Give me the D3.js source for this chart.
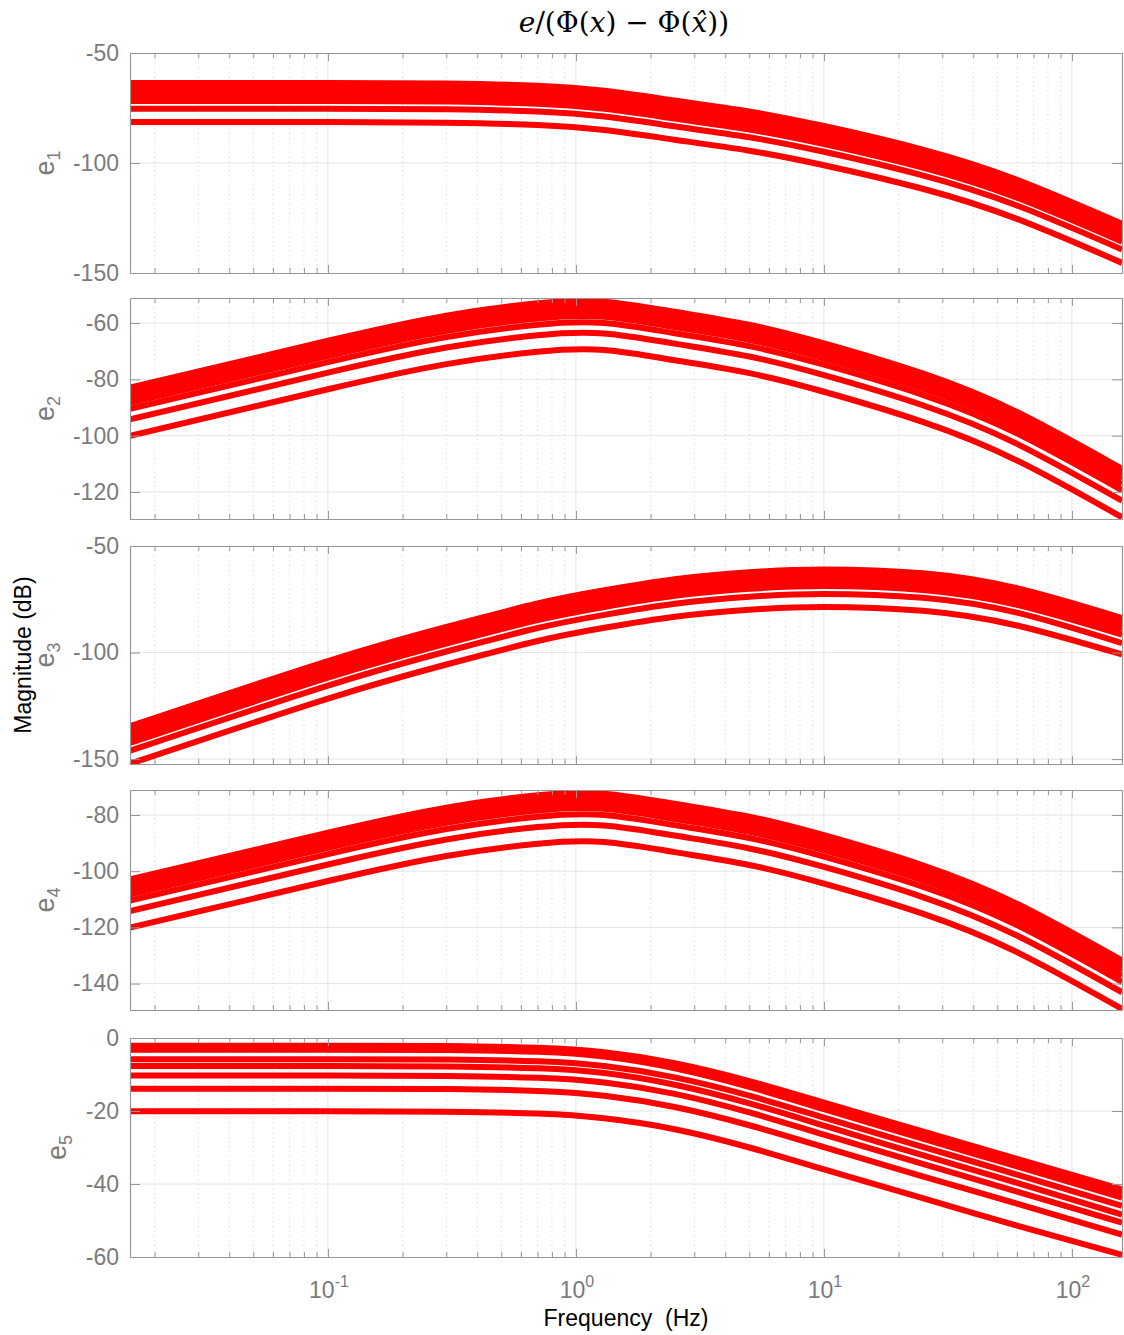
<!DOCTYPE html>
<html><head><meta charset="utf-8">
<script src="https://cdn.jsdelivr.net/npm/d3@7"></script>
<style>
body{margin:0;background:#fff}
svg{display:block}
text{font-family:"Liberation Sans",Arial,Helvetica,sans-serif}
</style>
</head><body><script>
// ---------------- data ----------------
const freqHz = [0.0159, 0.1, 0.3, 0.7, 1.3, 2.5, 5, 10, 25, 60, 159.15];

const e1Lines = [
  [-63.6, -63.6, -63.9, -64.9, -67.2, -71.6, -76.6, -83.2, -93.9, -107.6, -127.6],
  [-64.6, -64.6, -64.9, -65.9, -68.2, -72.6, -77.6, -84.2, -94.9, -108.6, -128.6],
  [-66.6, -66.6, -66.9, -67.9, -70.2, -74.6, -79.6, -86.2, -96.9, -110.6, -130.6],
  [-68.3, -68.3, -68.6, -69.6, -71.9, -76.3, -81.3, -87.9, -98.6, -112.3, -132.3],
  [-70.0, -70.0, -70.3, -71.3, -73.6, -78.0, -83.0, -89.6, -100.3, -114.0, -134.0],
  [-71.8, -71.8, -72.1, -73.1, -75.4, -79.8, -84.8, -91.4, -102.1, -115.8, -135.8],
  [-75.3, -75.3, -75.6, -76.6, -78.9, -83.3, -88.3, -94.9, -105.6, -119.3, -139.3],
  [-81.4, -81.4, -81.7, -82.7, -85.0, -89.4, -94.4, -101.0, -111.7, -125.4, -145.4]
];
const e2Lines = [
  [-82.9, -66.3, -57.4, -53.0, -52.4, -56.0, -60.6, -67.2, -77.9, -91.6, -111.8],
  [-83.9, -67.3, -58.4, -54.0, -53.4, -57.0, -61.6, -68.2, -78.9, -92.6, -112.8],
  [-85.1, -68.5, -59.6, -55.2, -54.6, -58.2, -62.8, -69.4, -80.1, -93.8, -114.0],
  [-86.5, -69.9, -61.0, -56.6, -56.0, -59.6, -64.2, -70.8, -81.5, -95.2, -115.4],
  [-88.3, -71.7, -62.8, -58.4, -57.8, -61.4, -66.0, -72.6, -83.3, -97.0, -117.2],
  [-90.5, -73.9, -65.0, -60.6, -60.0, -63.6, -68.2, -74.8, -85.5, -99.2, -119.4],
  [-94.2, -77.6, -68.7, -64.3, -63.7, -67.3, -71.9, -78.5, -89.2, -102.9, -123.1],
  [-100.1, -83.5, -74.6, -70.2, -69.6, -73.2, -77.8, -84.4, -95.1, -108.8, -129.0]
];
const e3Lines = [
  [-134.6, -104.0, -88.0, -77.0, -70.8, -65.6, -62.3, -61.0, -62.8, -69.8, -83.8],
  [-135.6, -105.0, -89.0, -78.0, -71.8, -66.6, -63.3, -62.0, -63.8, -70.8, -84.8],
  [-136.8, -106.2, -90.2, -79.2, -73.0, -67.8, -64.5, -63.2, -65.0, -72.0, -86.0],
  [-138.2, -107.6, -91.6, -80.6, -74.4, -69.2, -65.9, -64.6, -66.4, -73.4, -87.4],
  [-140.0, -109.4, -93.4, -82.4, -76.2, -71.0, -67.7, -66.4, -68.2, -75.2, -89.2],
  [-142.4, -111.8, -95.8, -84.8, -78.6, -73.4, -70.1, -68.8, -70.6, -77.6, -91.6],
  [-146.1, -115.5, -99.5, -88.5, -82.3, -77.1, -73.8, -72.5, -74.3, -81.3, -95.6],
  [-152.2, -121.6, -105.6, -94.6, -88.4, -83.2, -79.9, -78.6, -80.4, -87.3, -100.9]
];
const e4Lines = [
  [-102.9, -86.3, -77.4, -73.0, -72.4, -76.0, -80.6, -87.2, -97.9, -111.6, -131.8],
  [-103.9, -87.3, -78.4, -74.0, -73.4, -77.0, -81.6, -88.2, -98.9, -112.6, -132.8],
  [-105.1, -88.5, -79.6, -75.2, -74.6, -78.2, -82.8, -89.4, -100.1, -113.8, -134.0],
  [-106.5, -89.9, -81.0, -76.6, -76.0, -79.6, -84.2, -90.8, -101.5, -115.2, -135.4],
  [-108.3, -91.7, -82.8, -78.4, -77.8, -81.4, -86.0, -92.6, -103.3, -117.0, -137.2],
  [-110.5, -93.9, -85.0, -80.6, -80.0, -83.6, -88.2, -94.8, -105.5, -119.2, -139.4],
  [-114.2, -97.6, -88.7, -84.3, -83.7, -87.3, -91.9, -98.5, -109.2, -122.9, -143.1],
  [-120.1, -103.5, -94.6, -90.2, -89.6, -93.2, -97.8, -104.4, -115.1, -128.8, -149.0]
];
const e5Lines = [
  [-2.1, -2.1, -2.2, -2.7, -3.9, -6.9, -11.8, -17.7, -25.6, -33.1, -41.5],
  [-2.6, -2.6, -2.7, -3.2, -4.5, -7.6, -12.6, -18.6, -26.6, -34.1, -42.5],
  [-3.2, -3.2, -3.3, -3.8, -5.1, -8.3, -13.4, -19.5, -27.6, -35.2, -43.7],
  [-5.8, -5.8, -5.9, -6.4, -7.7, -10.8, -15.8, -21.8, -29.8, -37.4, -46.0],
  [-7.7, -7.7, -7.8, -8.3, -9.6, -12.8, -17.9, -24.0, -32.1, -39.7, -48.4],
  [-10.3, -10.3, -10.4, -10.9, -12.2, -15.3, -20.4, -26.5, -34.5, -42.1, -50.6],
  [-13.9, -13.9, -14.0, -14.5, -15.8, -18.9, -23.9, -29.9, -37.9, -45.4, -53.9],
  [-20.1, -20.1, -20.2, -20.7, -22.0, -25.0, -30.0, -36.0, -43.9, -51.4, -59.4]
];

const yDomains = [[-150, -50], [-129.6, -51.1], [-152.3, -50], [-149.4, -71.1], [-60, 0]];
const yTicks = [[-150, -100, -50], [-120, -100, -80, -60], [-150, -100, -50], [-140, -120, -100, -80], [-60, -40, -20, 0]];
const panelSubs = ["1", "2", "3", "4", "5"];
const xTickExps = [-1, 0, 1, 2];
const xLabelText = "Frequency  (Hz)";
const yLabelText = "Magnitude (dB)";

// ---------------- layout ----------------
const W = 1124, H = 1335, L = 130, R = 1122;
const frames = [[53, 273], [298, 519], [546, 764], [790, 1010], [1038, 1257]];
const yLabelX = [54, 54, 54, 54, 66];
const allLines = [e1Lines, e2Lines, e3Lines, e4Lines, e5Lines];
const axisGray = "#969696", labelGray = "#7b7b7b";

const svg = d3.select("body").append("svg").attr("width", W).attr("height", H);
svg.append("rect").attr("width", W).attr("height", H).attr("fill", "#fff");

const x = d3.scaleLog().domain([0.1 / (2 * Math.PI), 1000 / (2 * Math.PI)]).range([L, R]);
const [fmin, fmax] = x.domain();
const majorF = xTickExps.map(e => Math.pow(10, e));
const minorF = [];
for (let e = -2; e <= 2; e++) for (let m = 2; m <= 9; m++) {
  const f = m * Math.pow(10, e);
  if (f > fmin && f < fmax) minorF.push(f);
}

const defs = svg.append("defs");

frames.forEach(([top, bottom], i) => {
  const y = d3.scaleLinear().domain(yDomains[i]).range([bottom, top]);
  const g = svg.append("g");

  // grid
  g.append("g").selectAll("line").data(minorF).join("line")
    .attr("x1", d => x(d)).attr("x2", d => x(d)).attr("y1", top).attr("y2", bottom)
    .attr("stroke", "#d6d6d6").attr("stroke-width", 1).attr("stroke-dasharray", "1.2,3.5");
  g.append("g").selectAll("line").data(majorF).join("line")
    .attr("x1", d => x(d)).attr("x2", d => x(d)).attr("y1", top).attr("y2", bottom)
    .attr("stroke", "#e4e4e4").attr("stroke-width", 1);
  g.append("g").selectAll("line").data(yTicks[i].filter(t => y(t) > top + 1 && y(t) < bottom - 1)).join("line")
    .attr("x1", L).attr("x2", R).attr("y1", d => y(d)).attr("y2", d => y(d))
    .attr("stroke", "#e4e4e4").attr("stroke-width", 1);

  // clip
  defs.append("clipPath").attr("id", "clip" + i).append("rect")
    .attr("x", L).attr("y", top).attr("width", R - L).attr("height", bottom - top);

  const line = d3.line().x((d, k) => x(freqHz[k])).y(d => y(d)).curve(d3.curveNatural);
  g.append("g").attr("clip-path", `url(#clip${i})`)
    .selectAll("path").data(allLines[i]).join("path")
    .attr("d", d => line(d))
    .attr("fill", "none").attr("stroke", "#ff0000").attr("stroke-width", 6)
    .attr("stroke-linejoin", "round");

  // axes (ticks inward)
  const axB = g.append("g").attr("transform", `translate(0,${bottom})`)
    .call(d3.axisBottom(x).tickValues(majorF).tickSize(-8).tickSizeOuter(0).tickFormat(""));
  const axBm = g.append("g").attr("transform", `translate(0,${bottom})`)
    .call(d3.axisBottom(x).tickValues(minorF).tickSize(-5).tickSizeOuter(0).tickFormat(""));
  const axT = g.append("g").attr("transform", `translate(0,${top})`)
    .call(d3.axisTop(x).tickValues(majorF).tickSize(-8).tickSizeOuter(0).tickFormat(""));
  const axTm = g.append("g").attr("transform", `translate(0,${top})`)
    .call(d3.axisTop(x).tickValues(minorF).tickSize(-5).tickSizeOuter(0).tickFormat(""));
  const axL = g.append("g").attr("transform", `translate(${L},0)`)
    .call(d3.axisLeft(y).tickValues(yTicks[i]).tickSize(-10).tickSizeOuter(0).tickPadding(11).tickFormat(d3.format("d")));
  const axR = g.append("g").attr("transform", `translate(${R},0)`)
    .call(d3.axisRight(y).tickValues(yTicks[i]).tickSize(-10).tickSizeOuter(0).tickFormat(""));
  [axB, axBm, axT, axTm, axL, axR].forEach(a => {
    a.selectAll("path.domain").attr("stroke", axisGray).attr("stroke-width", 1.2);
    a.selectAll(".tick line").attr("stroke", axisGray).attr("stroke-width", 1);
  });
  axL.selectAll(".tick text").attr("font-size", 23).attr("fill", labelGray)
    .attr("font-family", "Liberation Sans, Arial, sans-serif")
    .text(d => String(d));

  // y label e_i
  const yl = g.append("text")
    .attr("transform", `translate(${yLabelX[i]},${(top + bottom) / 2}) rotate(-90)`)
    .attr("text-anchor", "middle").attr("fill", labelGray);
  yl.append("tspan").attr("font-size", 27).text("e");
  yl.append("tspan").attr("font-size", 18).attr("dy", 6).text(panelSubs[i]);

  // x tick labels on bottom panel only
  if (i === frames.length - 1) {
    const lab = g.append("g").selectAll("text").data(xTickExps).join("text")
      .attr("x", d => x(Math.pow(10, d)) + 1).attr("y", bottom + 41)
      .attr("text-anchor", "middle").attr("fill", labelGray);
    lab.append("tspan").attr("font-size", 23).text("10");
    lab.append("tspan").attr("font-size", 16).attr("dy", -11).text(d => String(d));
  }
});

// axis titles
svg.append("text").attr("x", (L + R) / 2).attr("y", 1326).attr("text-anchor", "middle")
  .attr("font-size", 23).attr("fill", "#000").style("white-space", "pre").text(xLabelText);
svg.append("text").attr("transform", `translate(31,${(frames[0][0] + frames[4][1]) / 2}) rotate(-90)`)
  .attr("text-anchor", "middle").attr("font-size", 23).attr("fill", "#000").text(yLabelText);

// title (math)
const tt = svg.append("text").attr("x", 624).attr("y", 32).attr("text-anchor", "middle")
  .attr("font-size", 28).attr("fill", "#000").style("font-family", "'DejaVu Serif','Liberation Serif',serif");
tt.append("tspan").attr("font-style", "italic").text("e");
tt.append("tspan").text("/(Φ(");
tt.append("tspan").attr("font-style", "italic").text("x");
tt.append("tspan").text(") \u2212 Φ(");
tt.append("tspan").attr("font-style", "italic").text("x\u0302");
tt.append("tspan").text("))");
</script></body></html>
